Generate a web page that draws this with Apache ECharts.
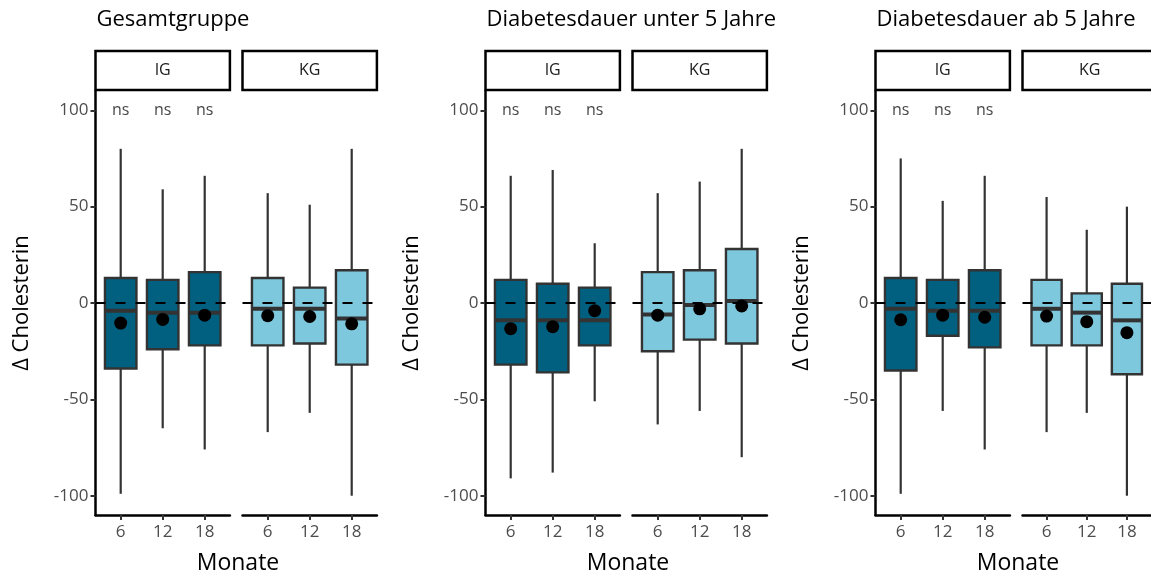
<!DOCTYPE html>
<html>
<head>
<meta charset="utf-8">
<script src="https://cdn.jsdelivr.net/npm/echarts@6/dist/echarts.min.js"></script>
<style>
  html, body { margin: 0; padding: 0; background: #fff; }
  #chart { width: 1151px; height: 574px; }
</style>
</head>
<body>
<div id="chart"></div>
<script>
// Follow-up months (x categories)
const months = ['6', '12', '18'];
const yTicks = [-100, -50, 0, 50, 100];
const panelTitles = ['Gesamtgruppe', 'Diabetesdauer unter 5 Jahre', 'Diabetesdauer ab 5 Jahre'];
const groups = ['IG', 'KG'];
const sigLabels = ['ns', 'ns', 'ns'];

// Box statistics per month: [lower whisker, Q1, median, Q3, upper whisker]
const gesamtIG = [[-99, -34, -4, 13, 80], [-65, -24, -5, 12, 59], [-76, -22, -5, 16, 66]];
const gesamtKG = [[-67, -22, -3, 13, 57], [-57, -21, -3, 8, 51], [-100, -32, -8, 17, 80]];
const unter5IG = [[-91, -32, -9, 12, 66], [-88, -36, -9, 10, 69], [-51, -22, -9, 8, 31]];
const unter5KG = [[-63, -25, -6, 16, 57], [-56, -19, -1, 17, 63], [-80, -21, 1, 28, 80]];
const ab5IG = [[-99, -35, -3, 13, 75], [-56, -17, -4, 12, 53], [-76, -23, -4, 17, 66]];
const ab5KG = [[-67, -22, -3, 12, 55], [-57, -22, -5, 5, 38], [-100, -37, -9, 10, 50]];

// Mean change per month
const gesamtIGMean = [-10.4, -8.5, -6.3];
const gesamtKGMean = [-6.6, -7.0, -10.8];
const unter5IGMean = [-13.3, -12.3, -4.0];
const unter5KGMean = [-6.3, -3.0, -1.5];
const ab5IGMean = [-8.7, -6.3, -7.4];
const ab5KGMean = [-6.8, -9.7, -15.4];

const boxStats = [[gesamtIG, gesamtKG], [unter5IG, unter5KG], [ab5IG, ab5KG]];
const boxMeans = [[gesamtIGMean, gesamtKGMean], [unter5IGMean, unter5KGMean], [ab5IGMean, ab5KGMean]];

const FONT = '"Open Sans", "Noto Sans", sans-serif';
const groupColors = ['#01607f', '#7ec8de'];
const panelOffsets = [0, 390, 780];
const facetLeft = [95.5, 242.5];
const facetWidth = 134.4;
const plotTop = 91;
const plotHeight = 424;
const stripTop = 51;
const stripHeight = 39;

const chart = echarts.init(document.getElementById('chart'), null, { renderer: 'canvas' });

const grid = [], xAxis = [], yAxis = [], series = [], graphic = [];

function boxRenderer(fill) {
  return function (params, api) {
    const x = api.value(0);
    const lo = api.coord([x, api.value(1)]);
    const q1 = api.coord([x, api.value(2)]);
    const med = api.coord([x, api.value(3)]);
    const q3 = api.coord([x, api.value(4)]);
    const hi = api.coord([x, api.value(5)]);
    const half = api.size([0.75, 0])[0] / 2;
    return {
      type: 'group',
      children: [
        { type: 'line', shape: { x1: hi[0], y1: hi[1], x2: q3[0], y2: q3[1] },
          style: { stroke: '#333333', lineWidth: 2.2 } },
        { type: 'line', shape: { x1: q1[0], y1: q1[1], x2: lo[0], y2: lo[1] },
          style: { stroke: '#333333', lineWidth: 2.2 } },
        { type: 'rect', shape: { x: q3[0] - half, y: q3[1], width: half * 2, height: q1[1] - q3[1] },
          style: { fill: fill, stroke: '#333333', lineWidth: 2.4 } },
        { type: 'line', shape: { x1: med[0] - half, y1: med[1], x2: med[0] + half, y2: med[1] },
          style: { stroke: '#333333', lineWidth: 4 } }
      ]
    };
  };
}

panelOffsets.forEach(function (off, p) {
  graphic.push({
    type: 'text', x: off + 96.5, y: 31,
    style: { text: panelTitles[p], fontFamily: FONT, fontSize: 22, fill: '#000', align: 'left', verticalAlign: 'bottom' }
  });

  groups.forEach(function (grp, g) {
    const gi = p * 2 + g;
    const left = off + facetLeft[g];
    grid.push({ left: left, top: plotTop, width: facetWidth, height: plotHeight, containLabel: false });

    xAxis.push({
      type: 'value', gridIndex: gi, min: 0.4, max: 3.6,
      axisLine: { show: true, onZero: false, lineStyle: { color: '#000', width: 2.5 } },
      axisTick: { show: true, customValues: [1, 2, 3], length: 5, lineStyle: { color: '#333', width: 2 } },
      axisLabel: {
        show: true, customValues: [1, 2, 3], margin: 9,
        formatter: function (v) { return months[Math.round(v) - 1]; },
        fontFamily: FONT, fontSize: 17, color: '#4d4d4d'
      },
      splitLine: { show: false }
    });

    yAxis.push({
      type: 'value', gridIndex: gi, min: -110, max: 110,
      show: g === 0,
      axisLine: { show: true, lineStyle: { color: '#000', width: 2.5 } },
      axisTick: { show: true, customValues: yTicks, length: 5, lineStyle: { color: '#333', width: 2 } },
      axisLabel: {
        show: true, customValues: yTicks, margin: 7,
        fontFamily: FONT, fontSize: 17, color: '#4d4d4d'
      },
      splitLine: { show: false }
    });

    const stats = boxStats[p][g];
    series.push({
      type: 'custom', xAxisIndex: gi, yAxisIndex: gi,
      renderItem: boxRenderer(groupColors[g]),
      encode: { x: 0, y: [1, 2, 3, 4, 5] },
      data: stats.map(function (s, i) { return [i + 1].concat(s); }),
      z: 2, silent: true
    });

    // reference line at zero change
    series.push({
      type: 'line', xAxisIndex: gi, yAxisIndex: gi, data: [],
      markLine: {
        silent: true, symbol: 'none', label: { show: false },
        lineStyle: { color: '#000', type: [10, 10], width: 2 },
        data: [{ yAxis: 0 }]
      },
      z: 3
    });

    series.push({
      type: 'scatter', xAxisIndex: gi, yAxisIndex: gi,
      data: boxMeans[p][g].map(function (m, i) { return [i + 1, m]; }),
      symbol: 'circle', symbolSize: 13,
      itemStyle: { color: '#000', opacity: 1 }, z: 5, silent: true
    });

    if (g === 0) {
      series.push({
        type: 'scatter', xAxisIndex: gi, yAxisIndex: gi,
        data: sigLabels.map(function (s, i) { return [i + 1, 100, s]; }),
        symbolSize: 1, itemStyle: { color: 'rgba(0,0,0,0)' },
        label: {
          show: true, position: 'inside',
          formatter: function (d) { return d.value[2]; },
          fontFamily: FONT, fontSize: 16, color: '#111'
        },
        z: 6, silent: true
      });
    }

    // facet strip
    graphic.push({
      type: 'group', x: left, y: stripTop,
      children: [
        { type: 'rect', shape: { x: 0, y: 0, width: facetWidth, height: stripHeight },
          style: { fill: '#fff', stroke: '#000', lineWidth: 2.5 } },
        { type: 'text', x: facetWidth / 2, y: stripHeight / 2,
          style: { text: grp, fontFamily: FONT, fontSize: 16, fill: '#1a1a1a', align: 'center', verticalAlign: 'middle' } }
      ]
    });
  });

  graphic.push({
    type: 'text', x: off + 22, y: 303, rotation: Math.PI / 2,
    style: { text: 'Δ Cholesterin', fontFamily: FONT, fontSize: 22, fill: '#000', align: 'center', verticalAlign: 'middle' }
  });
  graphic.push({
    type: 'text', x: off + 238, y: 575,
    style: { text: 'Monate', fontFamily: FONT, fontSize: 23, fill: '#000', align: 'center', verticalAlign: 'bottom' }
  });
});

chart.setOption({
  animation: false,
  backgroundColor: '#fff',
  grid: grid,
  xAxis: xAxis,
  yAxis: yAxis,
  series: series,
  graphic: graphic
});
</script>
</body>
</html>
